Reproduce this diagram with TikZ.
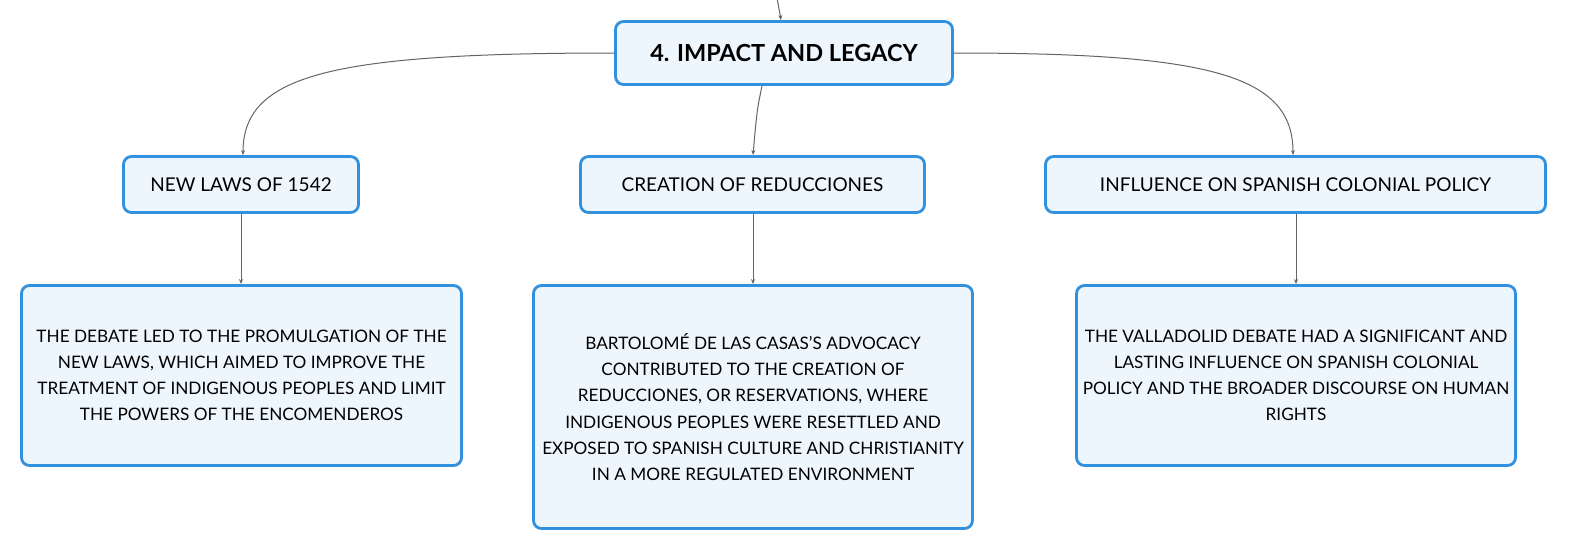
\documentclass[tikz,border=0pt]{standalone}
\usepackage{fontspec}
\setmainfont{Lato}
\usetikzlibrary{arrows.meta}
\definecolor{bord}{RGB}{50,145,222}
\definecolor{boxfill}{RGB}{238,246,253}
\definecolor{conn}{RGB}{100,100,100}
\tikzset{
  box/.style={draw=bord, line width=2.8pt, fill=boxfill, rounded corners=8pt, inner sep=0pt, align=center},
  rootbox/.style={box, font=\fontsize{23.5}{28}\selectfont\bfseries},
  midbox/.style={box, font=\fontsize{19}{22}\selectfont},
  leafbox/.style={box, font=\fontsize{17.2}{26.2}\selectfont},
  link/.style={draw=conn, line width=1pt, -{Stealth[length=5pt,width=4pt]}},
}
\begin{document}
\begin{tikzpicture}[x=1pt,y=-1pt]
\useasboundingbox (0,0) rectangle (1589,558);
\node[rootbox, minimum width=337pt, minimum height=63pt] (root) at (784,53) {4. IMPACT AND LEGACY};
\node[midbox, minimum width=235pt, minimum height=56pt] (c1) at (241,184.5) {NEW LAWS OF 1542};
\node[midbox, minimum width=344pt, minimum height=56pt] (c2) at (752.5,184.5) {CREATION OF REDUCCIONES};
\node[midbox, minimum width=500pt, minimum height=56pt] (c3) at (1295.5,184.5) {INFLUENCE ON SPANISH COLONIAL POLICY};
\node[leafbox, minimum width=440pt, minimum height=180pt] (l1) at (241.5,375.5) {THE DEBATE LED TO THE PROMULGATION OF THE\\NEW LAWS, WHICH AIMED TO IMPROVE THE\\TREATMENT OF INDIGENOUS PEOPLES AND LIMIT\\THE POWERS OF THE ENCOMENDEROS};
\node[leafbox, minimum width=439pt, minimum height=243pt] (l2) at (753,407) {BARTOLOMÉ DE LAS CASAS'S ADVOCACY\\CONTRIBUTED TO THE CREATION OF\\REDUCCIONES, OR RESERVATIONS, WHERE\\INDIGENOUS PEOPLES WERE RESETTLED AND\\EXPOSED TO SPANISH CULTURE AND CHRISTIANITY\\IN A MORE REGULATED ENVIRONMENT};
\node[leafbox, minimum width=439pt, minimum height=180pt] (l3) at (1296,375.5) {THE VALLADOLID DEBATE HAD A SIGNIFICANT AND\\LASTING INFLUENCE ON SPANISH COLONIAL\\POLICY AND THE BROADER DISCOURSE ON HUMAN\\RIGHTS};
\coordinate (top) at (777,-2);
\draw[link] (top) .. controls (779,8) .. (root.north -| 781,0);
\draw[link] (root.west) .. controls (330,53) and (243,75) .. (c1.north -| 243,0);
\draw[link] (root.east) .. controls (1210,53) and (1293,75) .. (c3.north -| 1293,0);
\draw[link] (root.south -| 762,0) .. controls (757,110) .. (c2.north -| 753,0);
\draw[link] (c1.south -| 241,0) -- (l1.north -| 241,0);
\draw[link] (c2.south -| 753,0) -- (l2.north -| 753,0);
\draw[link] (c3.south -| 1296,0) -- (l3.north -| 1296,0);
\end{tikzpicture}
\end{document}
